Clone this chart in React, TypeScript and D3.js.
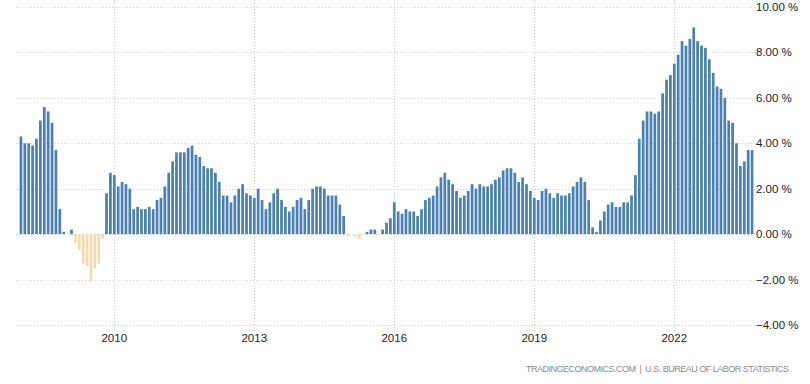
import React from "react";
import * as d3 from "d3";

const startYear = 2008;
const values: number[] = [
  // 2008
  4.3, 4.0, 4.0, 3.9, 4.2, 5.0, 5.6, 5.4, 4.9, 3.7, 1.1, 0.1,
  // 2009
  0.0, 0.2, -0.4, -0.7, -1.3, -1.4, -2.1, -1.5, -1.3, -0.2, 1.8, 2.7,
  // 2010
  2.6, 2.1, 2.3, 2.2, 2.0, 1.1, 1.2, 1.1, 1.1, 1.2, 1.1, 1.5,
  // 2011
  1.6, 2.1, 2.7, 3.2, 3.6, 3.6, 3.6, 3.8, 3.9, 3.5, 3.4, 3.0,
  // 2012
  2.9, 2.9, 2.7, 2.3, 1.7, 1.7, 1.4, 1.7, 2.0, 2.2, 1.8, 1.7,
  // 2013
  1.6, 2.0, 1.5, 1.1, 1.4, 1.8, 2.0, 1.5, 1.2, 1.0, 1.2, 1.5,
  // 2014
  1.6, 1.1, 1.5, 2.0, 2.1, 2.1, 2.0, 1.7, 1.7, 1.7, 1.3, 0.8,
  // 2015
  -0.1, 0.0, -0.1, -0.2, 0.0, 0.1, 0.2, 0.2, 0.0, 0.2, 0.5, 0.7,
  // 2016
  1.4, 1.0, 0.9, 1.1, 1.0, 1.0, 0.8, 1.1, 1.5, 1.6, 1.7, 2.1,
  // 2017
  2.5, 2.7, 2.4, 2.2, 1.9, 1.6, 1.7, 1.9, 2.2, 2.0, 2.2, 2.1,
  // 2018
  2.1, 2.2, 2.4, 2.5, 2.8, 2.9, 2.9, 2.7, 2.3, 2.5, 2.2, 1.9,
  // 2019
  1.6, 1.5, 1.9, 2.0, 1.8, 1.6, 1.8, 1.7, 1.7, 1.8, 2.1, 2.3,
  // 2020
  2.5, 2.3, 1.5, 0.3, 0.1, 0.6, 1.0, 1.3, 1.4, 1.2, 1.2, 1.4,
  // 2021
  1.4, 1.7, 2.6, 4.2, 5.0, 5.4, 5.4, 5.3, 5.4, 6.2, 6.8, 7.0,
  // 2022
  7.5, 7.9, 8.5, 8.3, 8.6, 9.1, 8.5, 8.3, 8.2, 7.7, 7.1, 6.5,
  // 2023
  6.4, 6.0, 5.0, 4.9, 4.0, 3.0, 3.2, 3.7, 3.7,
];
const yearTicks = [2010, 2013, 2016, 2019, 2022];
const yTicks = [-4, -2, 0, 2, 4, 6, 8, 10];
const sourceText = "TRADINGECONOMICS.COM  |  U.S. BUREAU OF LABOR STATISTICS";

export default function App() {
  const W = 810;
  const H = 384;
  const x = d3
    .scaleBand<number>()
    .domain(d3.range(values.length))
    .range([19, 754])
    .paddingInner(0.3)
    .paddingOuter(0.15);
  const y = d3.scaleLinear().domain([-4, 10]).range([325, 7]);
  const center = (i: number) => (x(i) as number) + x.bandwidth() / 2;
  const font = "'Liberation Sans', Arial, sans-serif";

  return (
    <svg
      width={W}
      height={H}
      style={{ position: "absolute", left: 0, top: 0, background: "#fff" }}
    >
      {yTicks.map((t) => (
        <line
          key={"h" + t}
          x1={16}
          x2={755}
          y1={Math.round(y(t)) + 0.5}
          y2={Math.round(y(t)) + 0.5}
          stroke="#cfcfcf"
          strokeDasharray="1,2"
        />
      ))}
      {yearTicks.map((yr) => {
        const cx = Math.round(center((yr - startYear) * 12)) + 0.5;
        return (
          <line
            key={"v" + yr}
            x1={cx}
            x2={cx}
            y1={0}
            y2={333}
            stroke="#cfcfcf"
            strokeDasharray="1,2"
          />
        );
      })}
      {values.map((v, i) => (
        <rect
          key={i}
          x={x(i)}
          width={x.bandwidth()}
          y={v >= 0 ? y(v) : y(0)}
          height={Math.abs(y(v) - y(0))}
          fill={v >= 0 ? "#4a80b4" : "#f3dcae"}
        />
      ))}
      {yTicks.map((t) => (
        <text
          key={"yl" + t}
          x={756}
          y={y(t)}
          dy="0.35em"
          fontSize={11.5}
          fontFamily={font}
          fill="#222"
        >
          {d3.format(".2f")(t) + " %"}
        </text>
      ))}
      {yearTicks.map((yr) => (
        <text
          key={"xl" + yr}
          x={center((yr - startYear) * 12)}
          y={342}
          textAnchor="middle"
          fontSize={11.5}
          fontFamily={font}
          fill="#222"
        >
          {yr}
        </text>
      ))}
      <text
        x={789}
        y={372}
        textAnchor="end"
        fontSize={9}
        fontFamily={font}
        fill="#8a8a8a"
        textLength={263}
        lengthAdjust="spacing"
        style={{ whiteSpace: "pre" }}
      >
        {sourceText}
      </text>
    </svg>
  );
}
